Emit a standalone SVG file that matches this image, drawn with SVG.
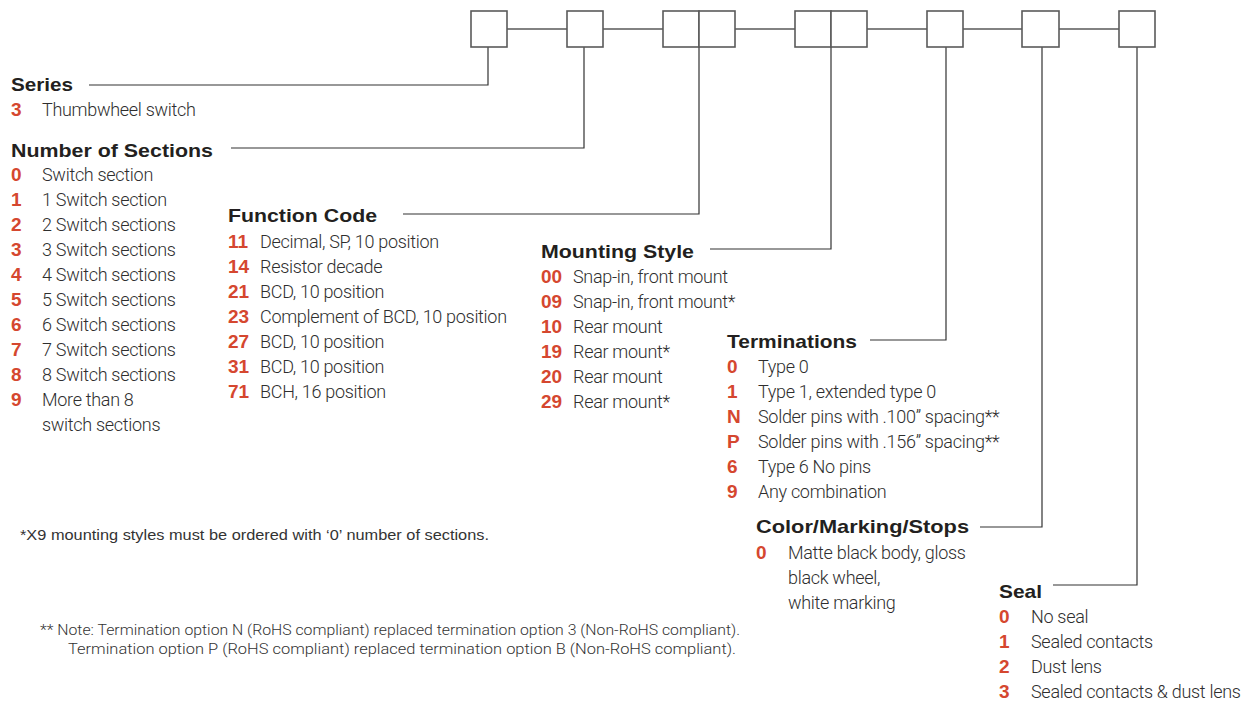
<svg xmlns="http://www.w3.org/2000/svg" width="1247" height="702" viewBox="0 0 1247 702">
<style>
.h{font-family:"Liberation Sans",Arial,sans-serif;font-weight:bold;font-size:19px;fill:#231f20}
.n{font-family:"Liberation Sans",Arial,sans-serif;font-weight:bold;font-size:19px;fill:#d5472f}
.t{font-family:Roboto,"Liberation Sans",sans-serif;font-weight:300;font-size:18px;letter-spacing:-0.3px;fill:#2e2e2e}
.f{font-family:"Liberation Sans",Arial,sans-serif;font-size:14px;fill:#333}
.f2{font-family:Roboto,"Liberation Sans",sans-serif;font-weight:300;font-size:14.5px;fill:#333}
.box{fill:#fff;stroke:#5a5a5a;stroke-width:1.6}
.ln{fill:none;stroke:#5a5a5a;stroke-width:1.6}
.ld{fill:none;stroke:#333;stroke-width:1.2}
</style>
<g id="connectors">
<path class="ln" d="M507 29H567M603 29H663M735 29H795M867 29H927M963 29H1022M1059 29H1119"/>
<path class="ld" d="M89 85H488V47"/>
<path class="ld" d="M231 148H584V47"/>
<path class="ld" d="M403 214H699V47"/>
<path class="ld" d="M710 249H831V47"/>
<path class="ld" d="M870 340H946V47"/>
<path class="ld" d="M980 527H1042V47"/>
<path class="ld" d="M1053 585H1137V47"/>
</g>
<g id="boxes">
<rect class="box" x="471" y="11" width="36" height="36"/>
<rect class="box" x="567" y="11" width="36" height="36"/>
<rect class="box" x="663" y="11" width="36" height="36"/>
<rect class="box" x="699" y="11" width="36" height="36"/>
<rect class="box" x="795" y="11" width="36" height="36"/>
<rect class="box" x="831" y="11" width="36" height="36"/>
<rect class="box" x="927" y="11" width="36" height="36"/>
<rect class="box" x="1022" y="11" width="37" height="36"/>
<rect class="box" x="1119" y="11" width="36" height="36"/>
</g>
<g id="series">
<text class="h" x="11" y="91" textLength="62" lengthAdjust="spacingAndGlyphs">Series</text>
<text class="n" x="11" y="116">3</text><text class="t" x="42" y="116">Thumbwheel switch</text>
</g>
<g id="sections">
<text class="h" x="11" y="157" textLength="202" lengthAdjust="spacingAndGlyphs">Number of Sections</text>
<text class="n" x="11" y="181">0</text><text class="t" x="42" y="181">Switch section</text>
<text class="n" x="11" y="206">1</text><text class="t" x="42" y="206">1 Switch section</text>
<text class="n" x="11" y="231">2</text><text class="t" x="42" y="231">2 Switch sections</text>
<text class="n" x="11" y="256">3</text><text class="t" x="42" y="256">3 Switch sections</text>
<text class="n" x="11" y="281">4</text><text class="t" x="42" y="281">4 Switch sections</text>
<text class="n" x="11" y="306">5</text><text class="t" x="42" y="306">5 Switch sections</text>
<text class="n" x="11" y="331">6</text><text class="t" x="42" y="331">6 Switch sections</text>
<text class="n" x="11" y="356">7</text><text class="t" x="42" y="356">7 Switch sections</text>
<text class="n" x="11" y="381">8</text><text class="t" x="42" y="381">8 Switch sections</text>
<text class="n" x="11" y="406">9</text><text class="t" x="42" y="406">More than 8</text>
<text class="t" x="42" y="431">switch sections</text>
</g>
<g id="function">
<text class="h" x="228" y="222" textLength="149" lengthAdjust="spacingAndGlyphs">Function Code</text>
<text class="n" x="228" y="248">11</text><text class="t" x="260" y="248">Decimal, SP, 10 position</text>
<text class="n" x="228" y="273">14</text><text class="t" x="260" y="273">Resistor decade</text>
<text class="n" x="228" y="298">21</text><text class="t" x="260" y="298">BCD, 10 position</text>
<text class="n" x="228" y="323">23</text><text class="t" x="260" y="323">Complement of BCD, 10 position</text>
<text class="n" x="228" y="348">27</text><text class="t" x="260" y="348">BCD, 10 position</text>
<text class="n" x="228" y="373">31</text><text class="t" x="260" y="373">BCD, 10 position</text>
<text class="n" x="228" y="398">71</text><text class="t" x="260" y="398">BCH, 16 position</text>
</g>
<g id="mounting">
<text class="h" x="541" y="258" textLength="153" lengthAdjust="spacingAndGlyphs">Mounting Style</text>
<text class="n" x="541" y="283">00</text><text class="t" x="573" y="283">Snap-in, front mount</text>
<text class="n" x="541" y="308">09</text><text class="t" x="573" y="308">Snap-in, front mount*</text>
<text class="n" x="541" y="333">10</text><text class="t" x="573" y="333">Rear mount</text>
<text class="n" x="541" y="358">19</text><text class="t" x="573" y="358">Rear mount*</text>
<text class="n" x="541" y="383">20</text><text class="t" x="573" y="383">Rear mount</text>
<text class="n" x="541" y="408">29</text><text class="t" x="573" y="408">Rear mount*</text>
</g>
<g id="terminations">
<text class="h" x="727" y="348" textLength="130" lengthAdjust="spacingAndGlyphs">Terminations</text>
<text class="n" x="727" y="373">0</text><text class="t" x="758" y="373">Type 0</text>
<text class="n" x="727" y="398">1</text><text class="t" x="758" y="398">Type 1, extended type 0</text>
<text class="n" x="727" y="423">N</text><text class="t" x="758" y="423">Solder pins with .100” spacing**</text>
<text class="n" x="727" y="448">P</text><text class="t" x="758" y="448">Solder pins with .156” spacing**</text>
<text class="n" x="727" y="473">6</text><text class="t" x="758" y="473">Type 6 No pins</text>
<text class="n" x="727" y="498">9</text><text class="t" x="758" y="498">Any combination</text>
</g>
<g id="color">
<text class="h" x="756" y="533" textLength="213" lengthAdjust="spacingAndGlyphs">Color/Marking/Stops</text>
<text class="n" x="756" y="559">0</text><text class="t" x="788" y="559">Matte black body, gloss</text>
<text class="t" x="788" y="584">black wheel,</text>
<text class="t" x="788" y="609">white marking</text>
</g>
<g id="seal">
<text class="h" x="999" y="598" textLength="43" lengthAdjust="spacingAndGlyphs">Seal</text>
<text class="n" x="999" y="623">0</text><text class="t" x="1031" y="623">No seal</text>
<text class="n" x="999" y="648">1</text><text class="t" x="1031" y="648">Sealed contacts</text>
<text class="n" x="999" y="673">2</text><text class="t" x="1031" y="673">Dust lens</text>
<text class="n" x="999" y="698">3</text><text class="t" x="1031" y="698">Sealed contacts &amp; dust lens</text>
</g>
<g id="notes">
<text class="f" x="20" y="540" textLength="469" lengthAdjust="spacingAndGlyphs">*X9 mounting styles must be ordered with ‘0’ number of sections.</text>
<text class="f2" x="40" y="635" textLength="700" lengthAdjust="spacingAndGlyphs">** Note: Termination option N (RoHS compliant) replaced termination option 3 (Non-RoHS compliant).</text>
<text class="f2" x="68" y="654" textLength="668" lengthAdjust="spacingAndGlyphs">Termination option P (RoHS compliant) replaced termination option B (Non-RoHS compliant).</text>
</g>
</svg>
